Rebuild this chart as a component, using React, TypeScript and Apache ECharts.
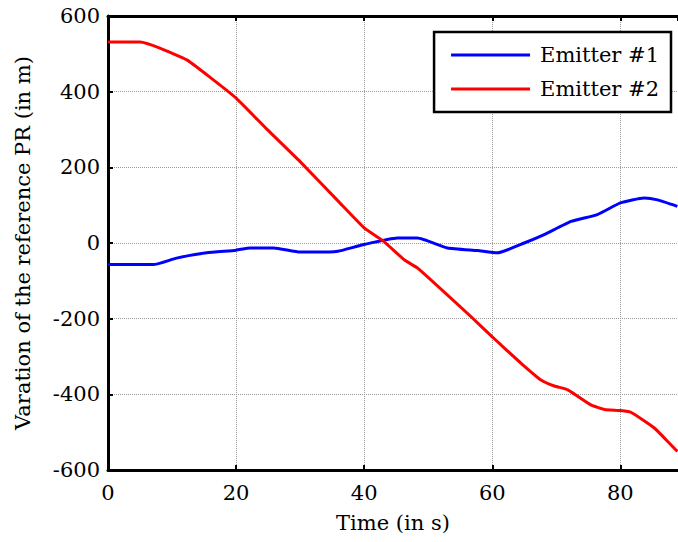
import React, { useEffect, useRef } from "react";
import * as echarts from "echarts";

const timeEmitter1 = [0, 7.1, 10.7, 15.4, 20, 22.2, 25.9, 30, 34.6, 35.9, 40, 45.2, 48.3, 53, 57.7, 60.8, 65, 68.1, 72.3, 76.4, 80, 83.7, 85.8, 88.9];
const emitter1 = [-57, -57, -40, -26, -19, -13, -13, -24, -24, -22, -4, 13, 13, -13, -20, -26, 0, 22, 57, 75, 106, 119, 114, 97];

const timeEmitter2 = [0, 5, 8.1, 12.3, 15.4, 20, 24.8, 30, 36.2, 40, 43, 46.3, 48.4, 56.7, 60, 61.4, 64.5, 67.6, 69.7, 71.8, 75.4, 77.5, 80, 81.7, 85.3, 88.9];
const emitter2 = [531, 531, 515, 484, 445, 383, 301, 215, 106, 40, 5, -45, -67, -195, -248, -270, -318, -362, -378, -388, -428, -440, -443, -448, -489, -551];

const xTicks = [0, 20, 40, 60, 80];
const yTicks = [-600, -400, -200, 0, 200, 400, 600];

const FONT = "DejaVu Serif";
const FS = 21;

export default function App() {
  const ref = useRef<HTMLDivElement>(null);
  useEffect(() => {
    if (!ref.current) return;
    const chart = echarts.init(ref.current, undefined, { renderer: "svg" });
    const pair = (xs: number[], ys: number[]) => xs.map((x, i) => [x, ys[i]]);
    chart.setOption({
      animation: false,
      backgroundColor: "#ffffff",
      grid: { left: 108, top: 16, right: 0, bottom: 72, containLabel: false },
      legend: {
        orient: "vertical",
        right: 7,
        top: 32,
        backgroundColor: "#ffffff",
        borderColor: "#000",
        borderWidth: 2.5,
        borderRadius: 0,
        padding: [11, 12, 11, 17],
        icon: "rect",
        itemWidth: 79,
        itemHeight: 3,
        itemGap: 10,
        textStyle: { fontFamily: FONT, fontSize: FS, color: "#000", lineHeight: 24, padding: [0, 0, 0, 5] },
        data: ["Emitter #1", "Emitter #2"],
      },
      xAxis: [
        {
          type: "value",
          min: 0,
          max: 89,
          interval: 20,
          name: "Time (in s)",
          nameLocation: "middle",
          nameGap: 42,
          nameTextStyle: { fontFamily: FONT, fontSize: FS, color: "#000" },
          axisLine: { show: true, onZero: false, lineStyle: { color: "#000", width: 3 } },
          axisTick: { show: true, inside: true, length: 5, lineStyle: { color: "#000", width: 2 } },
          axisLabel: { fontFamily: FONT, fontSize: FS, color: "#000", margin: 12, showMaxLabel: false },
          splitLine: { show: true, lineStyle: { color: "#999", type: "dotted", width: 1 } },
        },
        {
          type: "value",
          position: "top",
          min: 0,
          max: 89,
          interval: 20,
          axisLine: { show: true, onZero: false, lineStyle: { color: "#000", width: 3 } },
          axisTick: { show: true, inside: true, length: 5, lineStyle: { color: "#000", width: 2 } },
          axisLabel: { show: false },
          splitLine: { show: false },
        },
      ],
      yAxis: {
        type: "value",
        min: -600,
        max: 600,
        interval: 200,
        name: "Varation of the reference PR (in m)",
        nameLocation: "middle",
        nameGap: 75,
        nameTextStyle: { fontFamily: FONT, fontSize: FS, color: "#000" },
        axisLine: { show: true, onZero: false, lineStyle: { color: "#000", width: 3 } },
        axisTick: { show: true, inside: true, length: 5, lineStyle: { color: "#000", width: 2 } },
        axisLabel: { fontFamily: FONT, fontSize: FS, color: "#000", margin: 8 },
        splitLine: { show: true, lineStyle: { color: "#999", type: "dotted", width: 1 } },
      },
      series: [
        {
          name: "Emitter #1",
          type: "line",
          data: pair(timeEmitter1, emitter1),
          showSymbol: false,
          symbol: "none",
          smooth: 0.15,
          lineStyle: { color: "#0000ff", width: 3 },
          itemStyle: { color: "#0000ff" },
        },
        {
          name: "Emitter #2",
          type: "line",
          data: pair(timeEmitter2, emitter2),
          showSymbol: false,
          symbol: "none",
          smooth: 0.15,
          lineStyle: { color: "#ff0000", width: 3 },
          itemStyle: { color: "#ff0000" },
        },
      ],
    });
    return () => chart.dispose();
  }, []);
  return <div ref={ref} style={{ width: 678, height: 542, position: "absolute", left: 0, top: 0 }} />;
}
